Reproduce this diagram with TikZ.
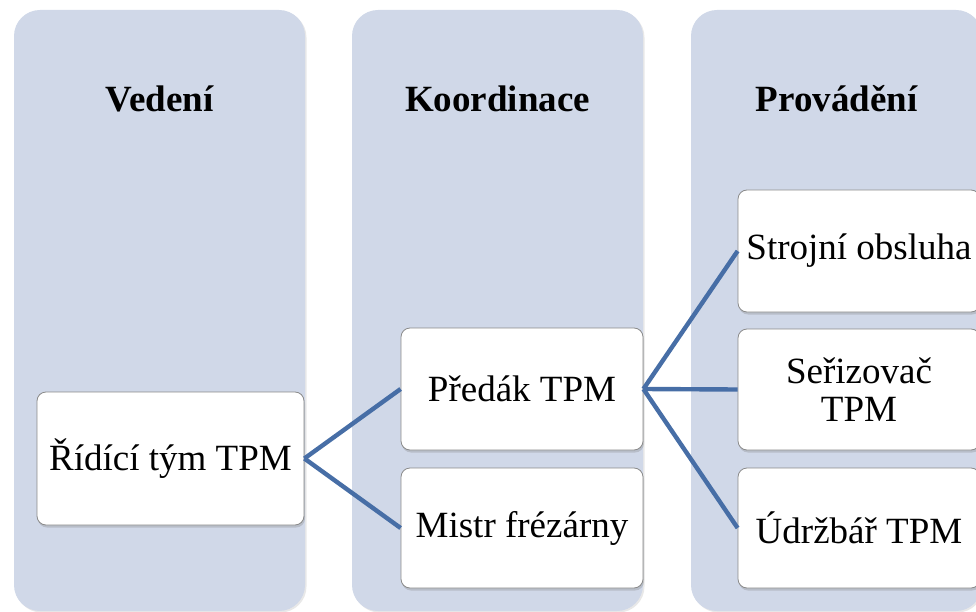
\documentclass[tikz,border=0pt]{standalone}
\usepackage{fontspec}
\setmainfont{Liberation Serif}
\usetikzlibrary{shadows}
\definecolor{colfill}{HTML}{D0D8E8}
\definecolor{linkblue}{HTML}{476EA6}
\definecolor{boxline}{HTML}{8A8A8A}
\begin{document}
\begin{tikzpicture}[x=1pt,y=-1pt,
  lane/.style={fill=colfill, rounded corners=26pt,
    drop shadow={shadow xshift=1.5pt, shadow yshift=-1.5pt, opacity=0.18}},
  lanetitle/.style={anchor=base, font=\bfseries\fontsize{37}{38}\selectfont},
  rolebox/.style={draw=boxline, line width=0.8pt, fill=white, rounded corners=9pt,
    inner sep=0pt, align=center, font=\fontsize{37}{38}\selectfont,
    drop shadow={shadow xshift=1pt, shadow yshift=-2.5pt, opacity=0.3}},
  link/.style={draw=linkblue, line width=4.4pt}]
  \useasboundingbox (0,0) rectangle (976,612);
  \clip (0,0) rectangle (976,612);

  % column backgrounds
  \path[lane] (14,10) rectangle (305,611);
  \path[lane] (352,10) rectangle (643,611);
  \path[lane] (691,10) rectangle (982,611);

  % column headings
  \node[lanetitle] (tvedeni) at (159.5,112) {Vedení};
  \node[lanetitle] (tkoord) at (497.5,112) {Koordinace};
  \node[lanetitle] (tprov) at (836.5,112) {Provádění};

  % role boxes
  \node[rolebox, minimum width=267pt, minimum height=133pt] (ridici) at (170.5,458.5) {Řídící tým TPM};
  \node[rolebox, minimum width=242pt, minimum height=122pt] (predak) at (522,389) {Předák TPM};
  \node[rolebox, minimum width=242pt, minimum height=120pt] (mistr) at (522,528) {Mistr frézárny};
  \node[rolebox, minimum width=242pt, minimum height=122pt] (strojni) at (859,251) {Strojní obsluha};
  \node[rolebox, minimum width=242pt, minimum height=121pt] (serizovac) at (859,389.5) {Seřizovač\\TPM};
  \node[rolebox, minimum width=242pt, minimum height=120pt] (udrzbar) at (859,528) {Údržbář TPM};

  % connectors
  \draw[link] (ridici.east) -- (predak.west);
  \draw[link] (ridici.east) -- (mistr.west);
  \draw[link] (predak.east) -- (strojni.west);
  \draw[link] (predak.east) -- (serizovac.west);
  \draw[link] (predak.east) -- (udrzbar.west);
\end{tikzpicture}
\end{document}
